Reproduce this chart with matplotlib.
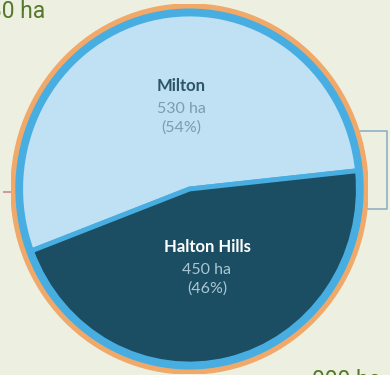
import matplotlib.pyplot as plt
from matplotlib.patches import Circle

plt.rcParams['font.family'] = ['Lato', 'DejaVu Sans']

regions = ['Milton', 'Halton Hills']
areas = [530, 450]
total_label = '980 ha'
other_label = '000 ha'

bg = '#edf0e0'
wedge_colors = ['#bfe1f3', '#1c4e63']
name_colors = ['#2d5568', '#ffffff']
value_colors = ['#7d9cae', '#a9c6d3']

fig = plt.figure(figsize=(3.9, 3.75), dpi=100, facecolor=bg)

# background axes in pixel units (y measured from the bottom)
ax = fig.add_axes([0, 0, 1, 1])
ax.set_facecolor(bg)
ax.set_xlim(0, 390)
ax.set_ylim(0, 375)
ax.axis('off')

# bracket on the right, behind the circle
ax.plot([350, 387, 387, 358], [244, 244, 166, 166], color='#8fb1c2', lw=1.2, zorder=0)
# small tick on the left
ax.plot([4, 12], [183, 183], color='#d49a9a', lw=1.5, zorder=0)

ax.text(45, 357, total_label, ha='right', va='baseline', fontsize=16.5,
        family=['Roboto', 'DejaVu Sans'], color='#56782a')
ax.text(312, -12, other_label, ha='left', va='baseline', fontsize=16.5,
        family=['Roboto', 'DejaVu Sans'], color='#56782a')

# pie axes, slightly taller than wide like the source
pax = fig.add_axes([11 / 390, 1 - 374 / 375, 357 / 390, 370 / 375])
pax.patch.set_alpha(0)

pax.add_patch(Circle((0, 0), 1.0, color='#f1a96a', zorder=1))
pax.add_patch(Circle((0, 0), 0.972, color='#48aee2', zorder=2))

wedges, _ = pax.pie(areas, colors=wedge_colors, startangle=6, counterclock=True,
                    radius=0.946,
                    wedgeprops=dict(edgecolor='#48aee2', linewidth=3.5))
for w in wedges:
    w.set_zorder(3)

pax.set_xlim(-1, 1)
pax.set_ylim(-1, 1)
pax.set_aspect('auto')
pax.axis('off')

total = sum(areas)
label_pos = [(181, 289), (207, 128)]
for i, name in enumerate(regions):
    x, y = label_pos[i]
    ax.text(x, y, name, ha='center', va='center', fontsize=12, fontweight='bold',
            color=name_colors[i], zorder=5)
    ax.text(x, y - 23, f'{areas[i]} ha', ha='center', va='center', fontsize=11.5,
            color=value_colors[i], zorder=5)
    ax.text(x, y - 42, f'({areas[i] / total:.0%})', ha='center', va='center', fontsize=11.5,
            color=value_colors[i], zorder=5)
# text must sit above the pie axes
for t in ax.texts[2:]:
    t.remove()
    pax.add_artist(t)
    t.set_transform(ax.transData)

plt.savefig('out.png', dpi=100, facecolor=bg)
